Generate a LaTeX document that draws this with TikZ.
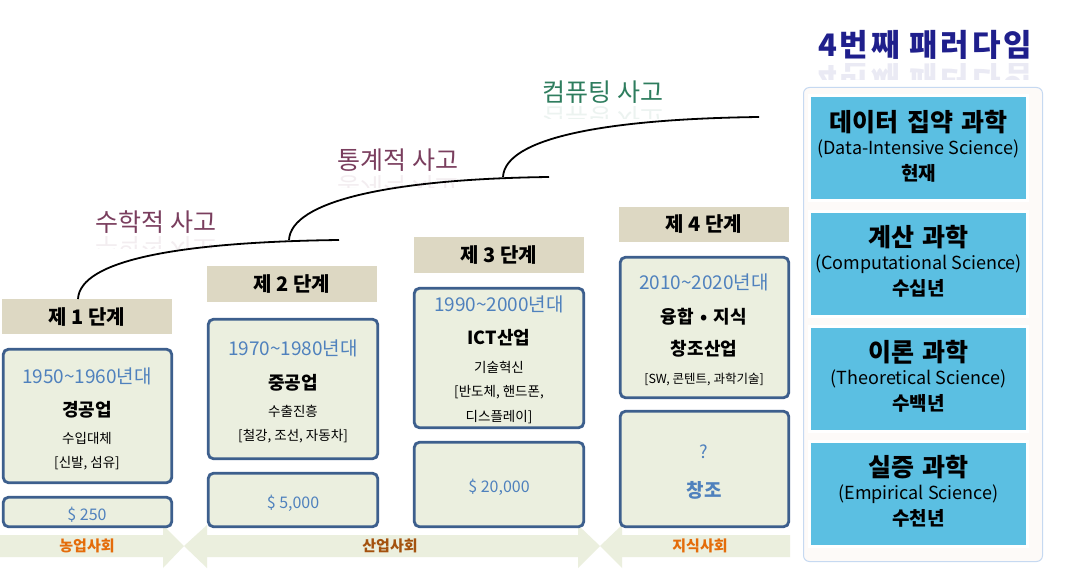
\documentclass[tikz,border=0pt]{standalone}
\usepackage{fontspec}
\setmainfont{Noto Sans CJK KR}
\definecolor{hdrc}{HTML}{DDD8C3}
\definecolor{boxc}{HTML}{EBEFDF}
\definecolor{bordc}{HTML}{3D5F8D}
\definecolor{bluet}{HTML}{4F81BD}
\definecolor{arrc}{HTML}{EBEFDE}
\definecolor{skyc}{HTML}{5BBFE2}
\definecolor{panelc}{HTML}{FDFAF8}
\definecolor{paneld}{HTML}{C6D9F1}
\definecolor{plum}{HTML}{7A3E5E}
\definecolor{greenl}{HTML}{2E7D5E}
\definecolor{navy}{HTML}{1F1F8C}
\definecolor{orangel}{HTML}{E46C0A}
\definecolor{brownl}{HTML}{A4520F}
\newcommand{\fs}[1]{\fontsize{#1}{#1}\selectfont}
\newcommand{\wsp}{\hspace{0.35em}}
\tikzset{
  hdr/.style={fill=hdrc, draw=none, minimum width=170pt, inner sep=0, font=\fs{20}\bfseries},
  stbox/.style={draw=bordc, line width=2.8pt, fill=boxc, rounded corners=5pt, inner sep=0},
  yr/.style={text=bluet, font=\fs{19}, inner sep=0},
  ind/.style={font=\fs{18}\bfseries, inner sep=0},
  sm/.style={font=\fs{13.5}, inner sep=0},
  money/.style={text=bluet, font=\fs{16}, inner sep=0},
  curve/.style={line width=1.8pt, black},
  hand/.style={font=\fs{25}, inner sep=0},
  ttl/.style={font={\fs{31}\bfseries\addfontfeature{LetterSpace=9}}, text=navy, inner sep=0},
  skybox/.style={fill=skyc, draw=white, line width=3pt, minimum width=218pt, minimum height=105pt, inner sep=0},
  rt/.style={font=\fs{25}\bfseries, inner sep=0},
  rp/.style={font=\fs{18}, inner sep=0},
  ry/.style={font=\fs{19}\bfseries, inner sep=0},
  soc/.style={font=\fs{15}\bfseries, inner sep=0},
  arrow/.style={fill=arrc, draw=none}
}
\begin{document}
\begin{tikzpicture}[x=1pt,y=-1pt]
\useasboundingbox (0,0) rectangle (1070,569);
\fill[white] (0,0) rectangle (1070,569);

% bottom arrows
\fill[arrow] (0,535) -- (163,535) -- (163,525) -- (184,546) -- (163,568) -- (163,557) -- (0,557) -- cycle;
\fill[arrow] (184,546) -- (207,525) -- (207,535) -- (578,535) -- (578,525) -- (600,546) -- (578,568) -- (578,557) -- (207,557) -- (207,568) -- cycle;
\fill[arrow] (600,546) -- (622,525) -- (622,535) -- (790,535) -- (790,557) -- (622,557) -- (622,568) -- cycle;
\node[soc, text=orangel] (s1) at (87,546) {농업사회};
\node[soc, text=brownl] (s2) at (390,546) {산업사회};
\node[soc, text=orangel] (s3) at (700,546) {지식사회};

% stage 1
\node[hdr, minimum height=35pt] (h1) at (87,316.5) {제 1 단계};
\node[stbox, minimum width=168.4pt, minimum height=133.4pt] (b1) at (87.5,416) {};
\node[stbox, minimum width=168.4pt, minimum height=29.4pt] (m1) at (87.5,512) {};
\node[yr] (y1) at (87,376) {1950\textasciitilde1960년대};
\node[ind] (i1) at (87,410) {경공업};
\node[sm] (p1) at (87,438) {수입대체};
\node[sm] (q1) at (87,463) {[신발, 섬유]};
\node[money] (v1) at (87,515) {\$ 250};

% stage 2
\node[hdr, minimum height=36pt] (h2) at (292,284) {제 2 단계};
\node[stbox, minimum width=169.4pt, minimum height=139.4pt] (b2) at (293,389) {};
\node[stbox, minimum width=169.4pt, minimum height=53.4pt] (m2) at (293,500) {};
\node[yr] (y2) at (293,348) {1970\textasciitilde1980년대};
\node[ind] (i2) at (293,383) {중공업};
\node[sm] (p2) at (293,411) {수출진흥};
\node[sm] (q2) at (293,436) {[철강, 조선, 자동차]};
\node[money] (v2) at (293,503) {\$ 5,000};

% stage 3
\node[hdr, minimum height=36pt] (h3) at (499,255) {제 3 단계};
\node[stbox, minimum width=169.4pt, minimum height=139.4pt] (b3) at (499,358) {};
\node[stbox, minimum width=169.4pt, minimum height=84.4pt] (m3) at (499,484.5) {};
\node[yr] (y3) at (499,304) {1990\textasciitilde2000년대};
\node[ind] (i3) at (499,338) {ICT산업};
\node[sm] (p3) at (499,367) {기술혁신};
\node[sm] (q3) at (499,392) {[반도체, 핸드폰,};
\node[sm] (r3) at (499,417) {디스플레이]};
\node[money] (v3) at (499,487) {\$ 20,000};

% stage 4
\node[hdr, minimum height=35pt] (h4) at (704,224.5) {제 4 단계};
\node[stbox, minimum width=168.4pt, minimum height=140.4pt] (b4) at (704.5,327.5) {};
\node[stbox, minimum width=168.4pt, minimum height=115.4pt] (m4) at (704.5,469) {};
\node[yr] (y4) at (704,282) {2010\textasciitilde2020년대};
\node[ind] (i4) at (704,317) {융합\wsp{}•\wsp{}지식};
\node[ind] (j4) at (704,349) {창조산업};
\node[sm, font=\fs{12.5}] (q4) at (704,379) {[SW, 콘텐트, 과학기술]};
\node[money, font=\fs{18}] (v4) at (704,452) {?};
\node[money, font=\fs{19}\bfseries] (w4) at (704,490) {창조};

% curves
\coordinate (c1a) at (78,299); \coordinate (c1b) at (339,240);
\coordinate (c2a) at (289,240); \coordinate (c2b) at (549,177);
\coordinate (c3a) at (503,177); \coordinate (c3b) at (759,117);
\draw[curve] (c1a) .. controls (80,260) and (180,242) .. (c1b);
\draw[curve] (c2a) .. controls (291,201) and (391,179) .. (c2b);
\draw[curve] (c3a) .. controls (505,138) and (605,119) .. (c3b);

% handwritten labels
\node[hand, text=plum] (l1) at (156,222) {수학적 사고};
\node[hand, text=plum] (l2) at (398,160) {통계적 사고};
\node[hand, text=greenl] (l3) at (603,92) {컴퓨팅 사고};
\begin{scope}
  \clip (80,237) rectangle (230,249);
  \node[hand, text=plum, opacity=0.09, anchor=north] at (156,236) {\scalebox{1}[-1]{수학적 사고}};
\end{scope}
\begin{scope}
  \clip (320,176) rectangle (480,188);
  \node[hand, text=plum, opacity=0.09, anchor=north] at (398,175) {\scalebox{1}[-1]{통계적 사고}};
\end{scope}
\begin{scope}
  \clip (530,107) rectangle (680,119);
  \node[hand, text=greenl, opacity=0.09, anchor=north] at (603,106) {\scalebox{1}[-1]{컴퓨팅 사고}};
\end{scope}

% right panel
\node[ttl] (title) at (925,45) {4번째 패러다임};
\begin{scope}
  \clip (800,64) rectangle (1050,80);
  \node[ttl, opacity=0.09, anchor=north] at (925,62) {\scalebox{1}[-1]{4번째 패러다임}};
\end{scope}
\node[draw=paneld, fill=panelc, line width=1pt, rounded corners=6pt, minimum width=239pt, minimum height=474pt, inner sep=0] (panel) at (923,324.5) {};
\node[skybox] (r1) at (918.5,148.5) {};
\node[skybox] (r2) at (918.5,264) {};
\node[skybox] (r3) at (918.5,379) {};
\node[skybox] (r4) at (918.5,494) {};
\node[rt] (t1) at (918.5,122) {데이터\wsp{}집약\wsp{}과학};
\node[rp] (e1) at (918.5,149) {(Data-Intensive Science)};
\node[ry] (a1) at (918.5,173) {현재};
\node[rt] (t2) at (918.5,237) {계산\wsp{}과학};
\node[rp] (e2) at (918.5,264) {(Computational Science)};
\node[ry] (a2) at (918.5,288) {수십년};
\node[rt] (t3) at (918.5,352) {이론\wsp{}과학};
\node[rp] (e3) at (918.5,379) {(Theoretical Science)};
\node[ry] (a3) at (918.5,403) {수백년};
\node[rt] (t4) at (918.5,467) {실증\wsp{}과학};
\node[rp] (e4) at (918.5,494) {(Empirical Science)};
\node[ry] (a4) at (918.5,518) {수천년};
\end{tikzpicture}
\end{document}
